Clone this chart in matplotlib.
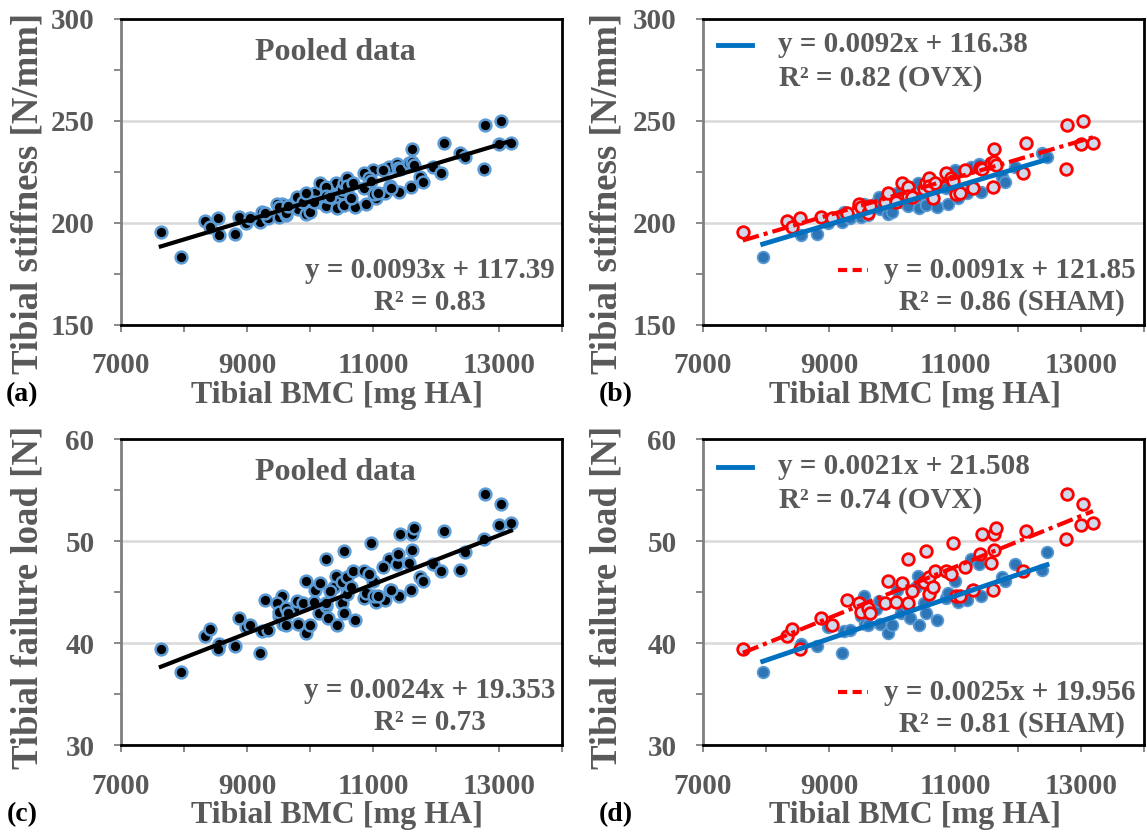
import numpy as np
import matplotlib.pyplot as plt
from matplotlib.lines import Line2D

plt.rcParams['font.family'] = ['Liberation Serif', 'DejaVu Serif']
plt.rcParams['font.weight'] = 'bold'

# ---- data ----
# SHAM group: tibial BMC [mg HA], stiffness [N/mm], failure load [N]
sham_bmc = [7632, 8339, 8420, 8546, 8868, 9040, 9287, 9471, 9500, 9626,
            9644, 9891, 9931, 10063, 10161, 10247, 10259, 10316, 10500, 10546,
            10580, 10592, 10649, 10678, 10851, 10937, 10966, 11023, 11080, 11155,
            11293, 11397, 11425, 11569, 11598, 11615, 11626, 11644, 12086, 12132,
            12764, 12776, 13006, 13034, 13190]
sham_stiff = [195.3, 201.0, 197.7, 202.2, 202.9, 202.5, 204.9, 209.2, 207.5, 204.9,
              208.0, 210.3, 214.4, 210.3, 219.3, 217.6, 213.0, 212.7, 216.5, 219.6,
              221.8, 218.0, 212.0, 219.3, 224.5, 221.8, 220.5, 213.9, 214.7, 225.8,
              216.9, 227.0, 226.2, 229.1, 217.6, 236.0, 229.9, 228.5, 224.2, 239.2,
              226.2, 247.9, 238.4, 249.9, 239.2]
sham_load = [39.4, 40.7, 41.4, 39.4, 42.5, 41.8, 44.2, 43.9, 43.0, 43.4,
             42.9, 43.9, 46.1, 44.0, 45.9, 43.9, 48.2, 45.1, 46.0, 49.0,
             44.8, 46.5, 45.5, 47.1, 47.1, 46.8, 49.8, 44.6, 44.6, 47.5,
             45.2, 48.7, 50.7, 47.8, 45.2, 49.1, 50.7, 51.3, 47.1, 51.0,
             50.2, 54.6, 51.6, 53.6, 51.8]

# OVX group
ovx_bmc = [7948, 8563, 8810, 8983, 9210, 9240, 9339, 9500, 9557, 9569,
           9615, 9741, 9790, 9810, 9931, 10006, 10075, 10144, 10247, 10293,
           10374, 10420, 10431, 10506, 10534, 10580, 10718, 10851, 10891, 10994,
           11052, 11195, 11253, 11270, 11385, 11405, 11741, 11787, 11960, 12374,
           12460]
ovx_stiff = [183.4, 194.0, 194.3, 199.8, 200.5, 205.4, 202.5, 203.0, 209.2, 206.0,
             203.8, 209.5, 212.8, 206.5, 204.3, 205.0, 214.4, 210.0, 208.4, 214.4,
             212.0, 219.6, 207.1, 214.5, 208.7, 216.0, 207.9, 217.2, 209.2, 225.8,
             212.0, 214.4, 227.4, 218.0, 228.7, 215.2, 222.5, 220.0, 227.4, 234.0,
             232.0]
ovx_load = [37.2, 39.9, 39.7, 41.6, 39.0, 41.2, 41.3, 42.6, 44.6, 41.9,
            41.8, 43.3, 44.1, 41.9, 41.0, 41.8, 45.2, 42.9, 43.6, 42.5,
            45.5, 46.6, 41.8, 43.9, 42.9, 45.5, 42.3, 44.4, 44.9, 46.1,
            44.0, 44.2, 48.2, 45.2, 47.7, 44.6, 46.5, 46.1, 47.7, 47.2,
            48.9]

# trendline coefficients (slope, intercept) as printed
fit_pool_stiff = (0.0093, 117.39)
fit_ovx_stiff = (0.0092, 116.38)
fit_sham_stiff = (0.0091, 121.85)
fit_pool_load = (0.0024, 19.353)
fit_ovx_load = (0.0021, 21.508)
fit_sham_load = (0.0025, 19.956)

x_ticks = [7000, 9000, 11000, 13000]
stiff_ticks = [150, 200, 250, 300]
load_ticks = [30, 40, 50, 60]

GRAY = '#595959'
BLUE = '#2e75b6'
RED = '#ff0000'
W, H = 1147, 839
AXW, AXH = 441, 306

fig = plt.figure(figsize=(W / 100, H / 100), dpi=100)


def fx(px):
    return px / W


def fy(py):
    return 1 - py / H


def make_axes(left, top, yticks):
    ax = fig.add_axes([fx(left), fy(top + AXH), AXW / W, AXH / H])
    ax.set_xlim(7000, 14000)
    ax.set_ylim(yticks[0], yticks[-1])
    ax.set_xticks(x_ticks)
    ax.set_xticks([8000, 10000, 12000, 14000], minor=True)
    step = yticks[1] - yticks[0]
    ax.set_yticks(yticks)
    ax.set_yticks([t + step / 2 for t in yticks[:-1]], minor=True)
    ax.tick_params(which='both', direction='out', length=5, width=1.3,
                   color='#808080')
    ax.tick_params(axis='both', labelsize=21, labelcolor=GRAY)
    ax.tick_params(axis='x', pad=15)
    ax.tick_params(axis='y', pad=14)
    ax.grid(axis='y', which='major', color='#d9d9d9', lw=1.8)
    ax.set_axisbelow(True)
    for s in ['top', 'right', 'bottom']:
        ax.spines[s].set_color('black')
        ax.spines[s].set_linewidth(2)
    ax.spines['left'].set_color('#808080')
    ax.spines['left'].set_linewidth(2)
    return ax


def trend(ax, xs, coef, **kw):
    xr = np.array([min(xs), max(xs)])
    ax.plot(xr, coef[0] * xr + coef[1], **kw)


sham_ls = (0, (4, 1.2, 1, 1.2))
pool_bmc = ovx_bmc + sham_bmc

# (a) pooled stiffness
ax = make_axes(121, 18.7, stiff_ticks)
ax.scatter(pool_bmc, ovx_stiff + sham_stiff, s=72, c='black',
           edgecolors='#5b9bd5', linewidths=1.8, zorder=3)
trend(ax, pool_bmc, fit_pool_stiff, color='black', lw=3, zorder=4)

# (b) stiffness by group
ax = make_axes(703, 18.7, stiff_ticks)
ax.scatter(ovx_bmc, ovx_stiff, s=72, c=BLUE, edgecolors='#5b9bd5',
           linewidths=1.2, zorder=3)
ax.scatter(sham_bmc, sham_stiff, s=70, c='#cfd9ec', edgecolors=RED,
           linewidths=2, zorder=3)
trend(ax, ovx_bmc, fit_ovx_stiff, color='#0070c0', lw=3.5, zorder=4)
trend(ax, sham_bmc, fit_sham_stiff, color=RED, lw=3, ls=sham_ls, zorder=4)

# (c) pooled failure load
ax = make_axes(121, 439, load_ticks)
ax.scatter(pool_bmc, ovx_load + sham_load, s=72, c='black',
           edgecolors='#5b9bd5', linewidths=1.8, zorder=3)
trend(ax, pool_bmc, fit_pool_load, color='black', lw=3, zorder=4)

# (d) failure load by group
ax = make_axes(703, 439, load_ticks)
ax.scatter(ovx_bmc, ovx_load, s=72, c=BLUE, edgecolors='#5b9bd5',
           linewidths=1.2, zorder=3)
ax.scatter(sham_bmc, sham_load, s=70, c='#cfd9ec', edgecolors=RED,
           linewidths=2, zorder=3)
trend(ax, ovx_bmc, fit_ovx_load, color='#0070c0', lw=3.5, zorder=4)
trend(ax, sham_bmc, fit_sham_load, color=RED, lw=3, ls=sham_ls, zorder=4)


def ftext(px, py, s, size=21, ha='center', color=GRAY, **kw):
    fig.text(fx(px), fy(py), s, fontsize=size, ha=ha, va='center',
             color=color, **kw)


def eq_text(a, b):
    return 'y = %sx + %s' % (a, b)


# axis labels
for lx, cx, cy, xly, yl in [(28, 337, 193, 395, 'Tibial stiffness [N/mm]'),
                            (607, 915, 193, 395, 'Tibial stiffness [N/mm]'),
                            (28, 337, 597, 815, 'Tibial failure load [N]'),
                            (607, 915, 597, 815, 'Tibial failure load [N]')]:
    ftext(lx, cy, yl, size=26.5, rotation=90)
    ftext(cx, xly, 'Tibial BMC [mg HA]', size=23)

for px, py, s in [(22, 395, '(a)'), (616, 395, '(b)'),
                  (22, 815, '(c)'), (616, 815, '(d)')]:
    ftext(px, py, s, size=20, color='black')

# panel (a) / (c) annotations
ftext(335, 52, 'Pooled data', size=23)
ftext(430, 270, eq_text('0.0093', '117.39'))
ftext(430, 302, 'R² = 0.83')
ftext(335, 472, 'Pooled data', size=23)
ftext(430, 690, eq_text('0.0024', '19.353'))
ftext(430, 722, 'R² = 0.73')

# panel (b) / (d) annotations with line keys
for top, ovx_eq, ovx_r2, sham_eq, sham_r2 in [
        (45, eq_text('0.0092', '116.38'), 'R² = 0.82 (OVX)',
         eq_text('0.0091', '121.85'), 'R² = 0.86 (SHAM)'),
        (467, eq_text('0.0021', '21.508'), 'R² = 0.74 (OVX)',
         eq_text('0.0025', '19.956'), 'R² = 0.81 (SHAM)')]:
    fig.add_artist(Line2D([fx(718), fx(752)], [fy(top), fy(top)],
                          color='#0070c0', lw=3.5))
    ftext(778, top, ovx_eq, ha='left')
    ftext(881, top + 34, ovx_r2)
    fig.add_artist(Line2D([fx(838), fx(868)], [fy(top + 225), fy(top + 225)],
                          color=RED, lw=3, ls=(0, (2.2, 1.3))))
    ftext(884, top + 225, sham_eq, ha='left')
    ftext(1012, top + 258, sham_r2)

fig.savefig('out.png', dpi=100)
